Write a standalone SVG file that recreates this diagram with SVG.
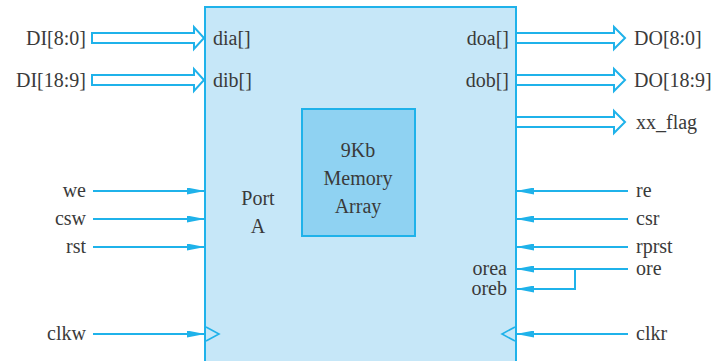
<svg xmlns="http://www.w3.org/2000/svg" width="723" height="361" viewBox="0 0 723 361">
<defs>
<style>
.t{font-family:"Liberation Serif","Times New Roman",serif;font-size:20px;fill:#3a3a3a}
.bus{fill:#fff;stroke:#1fb2ea;stroke-width:2;stroke-linejoin:miter}
.w{stroke:#1fb2ea;stroke-width:2;fill:none}
.clk{fill:none;stroke:#1fb2ea;stroke-width:1.6}
</style>
<marker id="ah" viewBox="0 0 18 7" refX="18" refY="3.5" markerWidth="18" markerHeight="7" markerUnits="userSpaceOnUse" orient="auto">
<path d="M0,0 L18,3.5 L0,7 Z" fill="#1fb2ea"/>
</marker>
</defs>
<rect width="723" height="361" fill="#fff"/>
<g id="block">
<rect x="205" y="7" width="311" height="360" fill="#c6e7f8" stroke="#1fb2ea" stroke-width="2"/>
<path class="clk" d="M206,327 L219,334 L206,341"/>
<path class="clk" d="M515,327 L502,334 L515,341"/>
<text class="t" x="213" y="45">dia[]</text>
<text class="t" x="213" y="87">dib[]</text>
<text class="t" x="509" y="45" text-anchor="end">doa[]</text>
<text class="t" x="509" y="87" text-anchor="end">dob[]</text>
<text class="t" x="258" y="205" text-anchor="middle">Port</text>
<text class="t" x="258" y="233" text-anchor="middle">A</text>
<text class="t" x="507" y="275" text-anchor="end">orea</text>
<text class="t" x="507" y="295" text-anchor="end">oreb</text>
</g>
<g id="memory">
<rect x="302" y="109" width="113" height="127" fill="#8fd2f2" stroke="#1fb2ea" stroke-width="2"/>
<text class="t" x="358" y="157" text-anchor="middle">9Kb</text>
<text class="t" x="358" y="185" text-anchor="middle">Memory</text>
<text class="t" x="358" y="213" text-anchor="middle">Array</text>
</g>
<g id="labels">
<text class="t" x="86" y="45" text-anchor="end">DI[8:0]</text>
<text class="t" x="86" y="87" text-anchor="end">DI[18:9]</text>
<text class="t" x="634" y="45">DO[8:0]</text>
<text class="t" x="634" y="87">DO[18:9]</text>
<text class="t" x="636" y="129">xx_flag</text>
<text class="t" x="86" y="197" text-anchor="end">we</text>
<text class="t" x="86" y="225" text-anchor="end">csw</text>
<text class="t" x="86" y="253" text-anchor="end">rst</text>
<text class="t" x="86" y="340" text-anchor="end">clkw</text>
<text class="t" x="636" y="197">re</text>
<text class="t" x="636" y="225">csr</text>
<text class="t" x="636" y="253">rprst</text>
<text class="t" x="636" y="275">ore</text>
<text class="t" x="636" y="340">clkr</text>
</g>
<g id="connectors">
<path class="bus" d="M92,33 H194 V27 L204,38 L194,49 V43 H92 Z"/>
<path class="bus" d="M92,75 H194 V69 L204,80 L194,91 V85 H92 Z"/>
<path class="bus" d="M517,33 H614 V27 L625,38 L614,49 V43 H517"/>
<path class="bus" d="M517,75 H614 V69 L625,80 L614,91 V85 H517"/>
<path class="bus" d="M517,117 H614 V111 L625,122 L614,133 V127 H517"/>
<line class="w" x1="93" y1="191" x2="205" y2="191" marker-end="url(#ah)"/>
<line class="w" x1="93" y1="219" x2="205" y2="219" marker-end="url(#ah)"/>
<line class="w" x1="93" y1="247" x2="205" y2="247" marker-end="url(#ah)"/>
<line class="w" x1="93" y1="334" x2="205" y2="334" marker-end="url(#ah)"/>
<line class="w" x1="628" y1="191" x2="516" y2="191" marker-end="url(#ah)"/>
<line class="w" x1="628" y1="219" x2="516" y2="219" marker-end="url(#ah)"/>
<line class="w" x1="628" y1="247" x2="516" y2="247" marker-end="url(#ah)"/>
<line class="w" x1="628" y1="269" x2="516" y2="269" marker-end="url(#ah)"/>
<path class="w" d="M575,269 V289 H516" marker-end="url(#ah)"/>
<line class="w" x1="628" y1="334" x2="516" y2="334" marker-end="url(#ah)"/>
</g>
</svg>
